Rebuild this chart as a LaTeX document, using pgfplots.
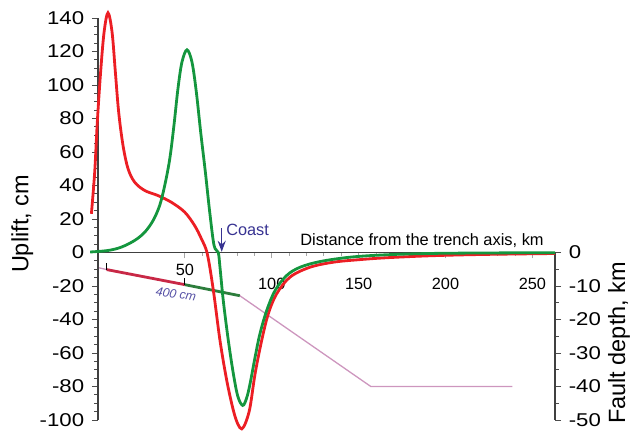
\documentclass[border=0pt]{standalone}
\usepackage{pgfplots}
\pgfplotsset{compat=1.18}
\usepackage{fontspec}
\setmainfont{Liberation Sans}
\usetikzlibrary{arrows.meta}
\definecolor{cred}{RGB}{236,30,36}
\definecolor{cgreen}{RGB}{20,150,62}
\definecolor{fred}{RGB}{200,40,70}
\definecolor{fgreen}{RGB}{45,125,60}
\definecolor{fpink}{RGB}{205,150,190}
\definecolor{navy}{RGB}{55,50,145}
\definecolor{lav}{RGB}{85,80,165}
\pgfdeclareplotmark{uptick}{\pgfpathmoveto{\pgfpoint{0pt}{0pt}}\pgfpathlineto{\pgfpoint{0pt}{7bp}}\pgfusepathqstroke}
\begin{document}
\begin{tikzpicture}
% ---- fault geometry (right axis, km) ----
\begin{axis}[name=depth, scale only axis, width=457bp, height=402bp,
  xmin=0, xmax=263, ymin=-50, ymax=70, clip=false,
  axis x line=none, axis y line*=right,
  y axis line style={draw=none},
  ytick={-50,-40,...,0}, minor y tick num=1,
  ytick align=outside,
  major tick length=6bp, minor tick length=3.5bp,
  every tick/.style={black!70, line width=0.8bp},
  /pgf/number format/assume math mode=true,
  yticklabel style={font=\fontsize{18.5bp}{20bp}\selectfont, xscale=1.2, anchor=west, xshift=3bp},
]
\draw[black!75, line width=1.2bp] (axis cs:263,0) -- (axis cs:263,-50);
\addplot[fpink, line width=1.3bp] coordinates {(0,-4.5) (5,-5.1)};
\addplot[fpink, line width=1.3bp] coordinates {(81.6,-12.9) (157,-40) (238.5,-40)};
\addplot[fred, line width=2.8bp] coordinates {(5,-5.1) (50,-9.6)};
\addplot[fgreen, line width=2.8bp] coordinates {(50,-9.6) (81.6,-12.9)};
\addplot[only marks, mark=uptick, mark options={black, line width=1.2bp}] coordinates {(5,-5.1) (50,-9.6)};
\node[text=lav, font=\fontsize{12.4bp}{14bp}\selectfont\itshape, rotate=-9] at (axis cs:44.9,-12.4) {400 cm};
\end{axis}
% ---- uplift (left axis, cm) ----
\begin{axis}[name=main, at={(depth.south west)}, anchor=south west,
  scale only axis, width=457bp, height=402bp,
  xmin=0, xmax=263, ymin=-100, ymax=140, clip=false,
  axis x line=middle, axis y line=left,
  axis line style={black!75, line width=1.2bp, -},
  xtick={50,100,150,200,250}, minor x tick num=4,
  xticklabels={\raisebox{14bp}[\height][\depth]{50},100,150,200,250},
  ytick={-100,-80,...,140}, minor y tick num=3,
  tick align=outside,
  major tick length=6bp, minor tick length=3.5bp,
  every tick/.style={black!70, line width=0.8bp},
  x tick style={black!35},
  /pgf/number format/assume math mode=true,
  xticklabel style={font=\fontsize{16.3bp}{18bp}\selectfont, anchor=north, yshift=-16bp},
  yticklabel style={font=\fontsize{18.5bp}{20bp}\selectfont, xscale=1.2, anchor=east, xshift=-3bp},
]
\addplot[cred, line width=2.8bp, smooth, tension=0.55] coordinates {
(-3.8,23.1) (-1.9,48) (-0.4,77.8) (1.5,107.6) (3.5,131.5) (5.75,143.1) (8.1,131.5)
(10,107.6) (11.9,83.8) (14.4,63.9) (17.3,50) (21.1,42) (26.9,37) (34.5,34) (42.2,30)
(49.9,24.1) (55.6,16.1) (59.5,8.2) (62.9,-0.8) (66.4,-22.7) (70.2,-52.5) (74.1,-76.4)
(77.9,-94.3) (80.5,-102.5) (82.7,-105.3) (85,-101.5) (87.5,-92.4) (90.4,-72.4)
(94.2,-52.5) (98,-36.6) (102.8,-24.7) (110.5,-14.7) (122,-8.8) (135.4,-5.8)
(148.9,-4.4) (165,-3.2) (190,-2) (220,-1.2) (263,-0.6)};
\addplot[cgreen, line width=2.8bp, smooth, tension=0.55] coordinates {
(-4.5,0.3) (5.75,1.2) (13.4,3.2) (21.1,7.2) (26.9,12.1) (31.7,19.1) (35.5,28.1)
(38.4,40) (41.3,55.9) (43.7,75.8) (46,97.7) (48.3,113.6) (51.2,121) (54.1,113.6)
(56.6,95.7) (59.1,71.8) (61.8,47.9) (64.3,24.1) (66.8,4.2) (69.2,0) (70.2,-8.8)
(72.1,-28.7) (75,-52.5) (77.9,-72.4) (80.5,-86) (83.3,-91.3) (85.5,-87) (87.5,-78.4)
(90.4,-62.5) (93.2,-48.5) (97.1,-34.6) (101.9,-22.7) (108.6,-13.7) (116.3,-8.8)
(127.8,-5.4) (145,-2.8) (165,-1.4) (190,-0.6) (220,-0.3) (263,-0.1)};
\draw[navy, line width=1.5bp, -{Stealth[length=11bp,width=8bp]}] (axis cs:71.2,14.5) -- (axis cs:71.2,0.4);
\node[anchor=base west, text=navy, font=\fontsize{16.3bp}{18bp}\selectfont, inner sep=0pt] at (axis cs:73.7,10.1) {Coast};
\node[anchor=base west, font=\fontsize{16.4bp}{18bp}\selectfont, inner sep=0pt] at (axis cs:116.3,4.2) {Distance from the trench axis, km};
\node[rotate=90, font=\fontsize{23.5bp}{26bp}\selectfont, inner sep=0pt] at (axis cs:-43.5,17) {Uplift, cm};
\node[rotate=90, font=\fontsize{23.5bp}{26bp}\selectfont, inner sep=0pt] at (axis cs:299.8,-54) {Fault depth, km};
\end{axis}
\path ([shift={(-98bp,-11bp)}]main.south west) rectangle ([shift={(77bp,18bp)}]main.north east);
\end{tikzpicture}
\end{document}
